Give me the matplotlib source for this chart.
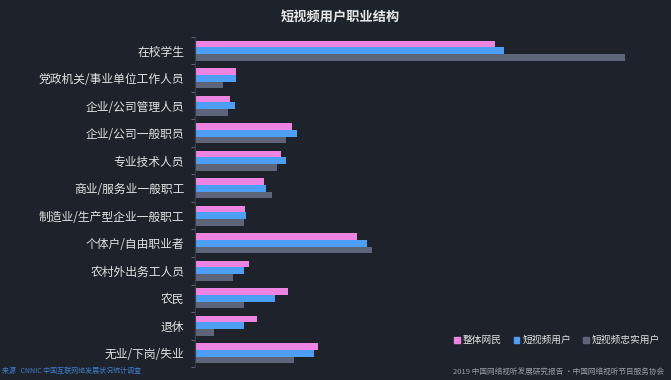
import numpy as np
import matplotlib.pyplot as plt
from matplotlib.patches import Patch

plt.rcParams['font.family'] = ['Noto Sans CJK SC', 'DejaVu Sans']

categories = ['在校学生', '党政机关/事业单位工作人员', '企业/公司管理人员', '企业/公司一般职员',
              '专业技术人员', '商业/服务业一般职工', '制造业/生产型企业一般职工', '个体户/自由职业者',
              '农村外出务工人员', '农民', '退休', '无业/下岗/失业']
series_names = ['整体网民', '短视频用户', '短视频忠实用户']
all_users = [25.9, 3.5, 3.0, 8.4, 7.4, 5.9, 4.3, 14.0, 4.6, 8.0, 5.3, 10.6]
video_users = [26.7, 3.5, 3.4, 8.8, 7.8, 6.1, 4.4, 14.8, 4.2, 6.9, 4.2, 10.3]
loyal_users = [37.1, 2.4, 2.8, 7.8, 7.1, 6.6, 4.2, 15.3, 3.3, 4.2, 1.6, 8.5]

bg = '#1e222a'
colors = ['#ee84e2', '#4d9ef5', '#5e6579']

fig = plt.figure(figsize=(6.71, 3.80), dpi=100, facecolor=bg)
ax = fig.add_axes([0.291, 0.034, 0.69, 0.869], facecolor=bg)

y = np.arange(len(categories))
h = 0.245
for i, vals in enumerate([all_users, video_users, loyal_users]):
    ax.barh(y + (i - 1) * h, vals, height=h, color=colors[i], label=series_names[i])

ax.set_ylim(len(categories) - 0.5, -0.5)
ax.set_xlim(0, 40)
ax.set_yticks(y)
ax.set_yticklabels(categories, fontsize=8.5, color='#e2e2e2')
ax.set_yticks(np.arange(len(categories) + 1) - 0.5, minor=True)
ax.tick_params(axis='y', which='major', length=0, pad=8)
ax.tick_params(axis='y', which='minor', length=3, color='#6a7080')
ax.set_xticks([])
for s in ['top', 'right', 'bottom']:
    ax.spines[s].set_visible(False)
ax.spines['left'].set_color('#3a3f4a')

fig.text(0.507, 0.955, '短视频用户职业结构', ha='center', va='center',
         fontsize=9.5, fontweight='bold', color='#e8e8e8')

handles = [Patch(color=c) for c in colors]
fig.legend(handles, series_names, loc='center', bbox_to_anchor=(0.83, 0.105), ncol=3,
           frameon=False, fontsize=7, labelcolor='#e2e2e2', handlelength=0.6,
           handleheight=0.6, handletextpad=0.3, columnspacing=1.2)

fig.text(0.003, 0.025, '来源   CNNIC 中国互联网络发展状况统计调查', fontsize=5,
         color='#3f7fd0', va='center')
fig.text(0.99, 0.008, '2019 中国网络视听发展研究报告 ·中国网络视听节目服务协会', fontsize=5.5,
         color='#9a9ea6', ha='right', va='bottom')

fig.savefig('out.png', dpi=100, facecolor=bg)
